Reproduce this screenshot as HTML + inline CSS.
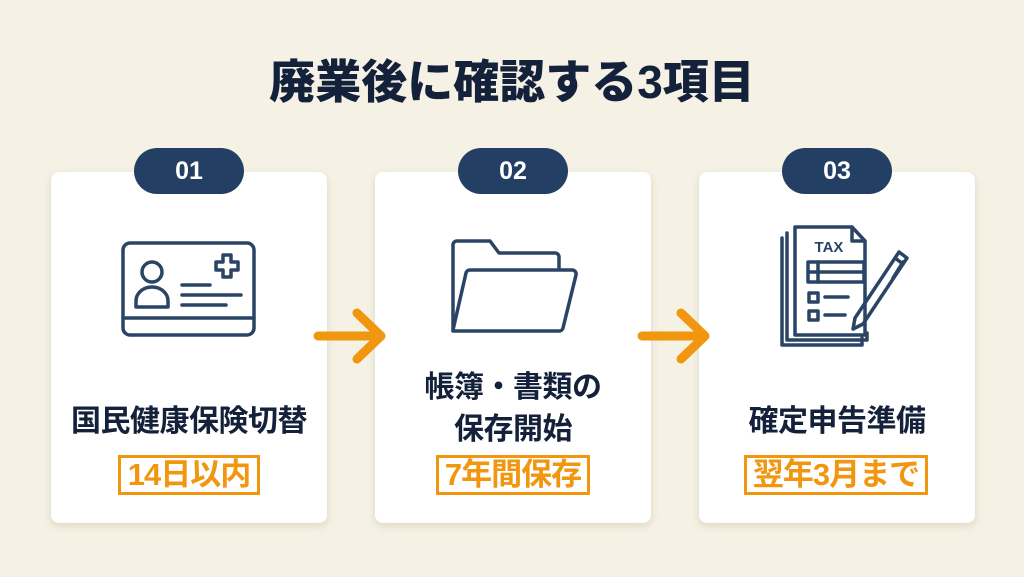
<!DOCTYPE html>
<html><head><meta charset="utf-8"><style>
*{margin:0;padding:0;box-sizing:border-box}
body{width:1024px;height:577px;background:#f5f1e4;position:relative;overflow:hidden;font-family:"Liberation Sans","Noto Sans CJK JP",sans-serif}
.t{position:absolute;left:0;width:1024px;text-align:center;top:55px;font-size:46px;font-weight:900;color:#14213a;line-height:54px;letter-spacing:0px}
.card{position:absolute;top:172px;width:276px;height:351px;background:#fff;border-radius:8px;box-shadow:0 3px 8px rgba(120,100,60,.18)}
.badge{position:absolute;top:148px;width:110px;height:46px;background:#243f64;border-radius:23px;color:#fff;font-size:25px;font-weight:700;text-align:center;line-height:46px}
.lab{position:absolute;width:276px;text-align:center;font-size:30px;font-weight:700;color:#14213a;line-height:42px;letter-spacing:-0.5px}
.box{position:absolute;top:455px;height:40px;border:3px solid #f0960f;color:#f0960f;font-size:31px;font-weight:700;text-align:center;line-height:34px;letter-spacing:-1px;white-space:nowrap}
svg{position:absolute}
</style></head><body>
<div class="t">廃業後に確認する3項目</div>
<div class="card" style="left:51px"></div>
<div class="card" style="left:375px"></div>
<div class="card" style="left:699px"></div>
<div class="badge" style="left:134px">01</div>
<div class="badge" style="left:458px">02</div>
<div class="badge" style="left:782px">03</div>

<svg style="left:0;top:0" width="1024" height="577" fill="none" stroke="#2a4466" stroke-width="3.5" stroke-linecap="round" stroke-linejoin="round">
<rect x="123" y="243" width="131" height="92" rx="7"/>
<line x1="123" y1="318" x2="254" y2="318"/>
<circle cx="152" cy="272" r="10"/>
<path d="M136 307 v-6 a16 14 0 0 1 32 0 v6 z"/>
<path d="M216 262 h7 v-7 h8 v7 h7 v8 h-7 v7 h-8 v-7 h-7 z"/>
<line x1="182" y1="285" x2="210" y2="285"/>
<line x1="182" y1="295" x2="241" y2="295"/>
<line x1="182" y1="305" x2="226" y2="305"/>
<path d="M453 330 V245 a4 4 0 0 1 4-4 h33 l9 12 h56 a4 4 0 0 1 4 4 v12"/>
<path d="M453 330 l13-57 a4 4 0 0 1 4-3 h102 a4 4 0 0 1 4 5 l-13 53 a4 4 0 0 1 -4 3 h-106 z"/>
<path d="M782 238 v107 h80 v-7"/>
<path d="M787 233 v107 h80 v-7"/>
<path d="M795 227 h57 l13 14 v94 h-70 z"/>
<path d="M852 227 v14 h13"/>
<rect x="808" y="262" width="56" height="20"/>
<line x1="808" y1="272" x2="864" y2="272"/><line x1="818" y1="262" x2="818" y2="282"/>
<rect x="809" y="293" width="9" height="9"/><rect x="809" y="311" width="9" height="9"/>
<line x1="825" y1="297" x2="848" y2="297"/><line x1="825" y1="315" x2="845" y2="315"/>
<path d="M855 318 l40-60 l8 6 l-40 60 l-10 5 z"/>
<path d="M895 258 l4-6 l8 6 l-4 6"/>
<path d="M903 262 l-10 16"/>
</svg>
<svg style="left:0;top:0" width="1024" height="577"><text x="829" y="252" font-family="Liberation Sans" font-weight="700" font-size="15" fill="#2a4466" text-anchor="middle">TAX</text></svg>
<svg style="left:0;top:0" width="1024" height="577" fill="none" stroke="#f0960f" stroke-width="9" stroke-linecap="round" stroke-linejoin="round">
<path d="M318 336 H380 M357 313 L381 336 L357 359"/>
<path d="M642 336 H704 M681 313 L705 336 L681 359"/>
</svg>

<div class="lab" style="left:51px;top:401px">国民健康保険切替</div>
<div class="lab" style="left:375px;top:367px">帳簿・書類の<br>保存開始</div>
<div class="lab" style="left:699px;top:401px">確定申告準備</div>
<div class="box" style="left:118px;width:142px">14日以内</div>
<div class="box" style="left:436px;width:154px">7年間保存</div>
<div class="box" style="left:744px;width:184px">翌年3月まで</div>
</body></html>
